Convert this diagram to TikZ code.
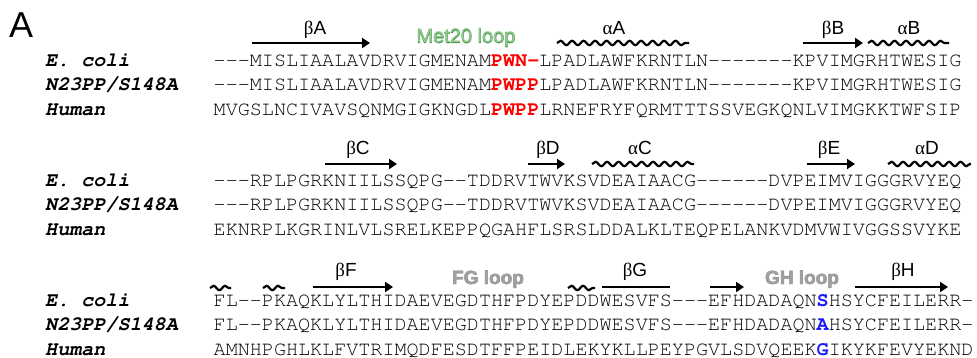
\documentclass[tikz,border=0pt]{standalone}
\usepackage{fontspec}
\setmainfont{Liberation Sans}
\newfontfamily\greekfont{Liberation Serif}
\newfontfamily\haloface{Liberation Sans}[FakeBold=2.2]
\usetikzlibrary{arrows.meta,decorations.pathmorphing}

\definecolor{resred}{HTML}{FF0000}
\definecolor{resblue}{HTML}{1A1AFF}
\definecolor{loopgreen}{HTML}{93CB93}
\definecolor{loopgreenedge}{HTML}{4E9A4E}
\definecolor{loopgrey}{HTML}{A0A0A0}
\definecolor{loopgreyedge}{HTML}{8A8A8A}

% Courier for the alignment itself
\newcommand\courier{\fontencoding{T1}\fontfamily{pcr}\fontsize{20.1}{20}\selectfont}
% n alignment gaps
\newcommand\gaps[1]{\foreach \gi in {1,...,#1}{\textendash}}
% highlighted residue(s)
\newcommand\hlres[2]{\textcolor{#1}{\bfseries #2}}
% secondary-structure label: Greek letter + sans letter
\newcommand\sslab[2]{{\greekfont #1}#2}

\tikzset{
  seqtext/.style={anchor=base west, inner sep=0pt, font=\courier},
  rowname/.style={anchor=base west, inner sep=0pt, font=\courier\fontseries{b}\fontshape{sl}\selectfont},
  strand/.style={line width=2.8pt, -{Triangle[length=8pt,width=10pt]}},
  flatstrand/.style={line width=2.8pt},
  helix/.style={line width=2.2pt, decorate,
    decoration={snake, segment length=11.5pt, amplitude=2.2pt}},
  sslabel/.style={anchor=base, inner sep=0pt, font=\fontsize{19}{19}\selectfont},
  halo/.style={anchor=base, inner sep=0pt, font=\fontsize{20}{20}\haloface},
  looptext/.style={anchor=base, inner sep=0pt, font=\fontsize{20}{20}\selectfont},
}

\begin{document}
\begin{tikzpicture}[x=1pt,y=-1pt]
\useasboundingbox (0,0) rectangle (977,358);

\node[anchor=base west, inner sep=0pt, font=\fontsize{36}{36}\selectfont] (panel) at (9,38) {A};

% ---------------- block 1 ----------------
\node[rowname] (ecA) at (45,66.5) {E. coli};
\node[rowname] (muA) at (45,90.8) {N23PP/S148A};
\node[rowname] (huA) at (45,115.1) {Human};
\node[seqtext] (secA) at (213.5,66.5) {\gaps{3}MISLIAALAVDRVIGMENAM\hlres{resred}{PWN\textendash}LPADLAWFKRNTLN\gaps{7}KPVIMGRHTWESIG};
\node[seqtext] (smuA) at (213.5,90.8) {\gaps{3}MISLIAALAVDRVIGMENAM\hlres{resred}{PWPP}LPADLAWFKRNTLN\gaps{7}KPVIMGRHTWESIG};
\node[seqtext] (shuA) at (213.5,115.1) {MVGSLNCIVAVSQNMGIGKNGDL\hlres{resred}{PWPP}LRNEFRYFQRMTTTSSVEGKQNLVIMGKKTWFSIP};

\draw[strand] (252,43) -- (370,43);
\node[sslabel] (lbA) at (315,35) {\sslab{β}{A}};
\node[halo, text=loopgreenedge] (met20edge) at (466,43) {Met20 loop};
\node[looptext, text=loopgreen] (met20) at (466,43) {Met20 loop};
\draw[helix] (557,43) -- (689,43);
\node[sslabel] (laA) at (614,35) {\sslab{α}{A}};
\draw[strand] (803,43) -- (863,43);
\node[sslabel] (lbB) at (833,35) {\sslab{β}{B}};
\draw[helix] (868,43) -- (949,43);
\node[sslabel] (laB) at (909,35) {\sslab{α}{B}};

% ---------------- block 2 ----------------
\node[rowname] (ecB) at (45,186.5) {E. coli};
\node[rowname] (muB) at (45,210.8) {N23PP/S148A};
\node[rowname] (huB) at (45,235.1) {Human};
\node[seqtext] (secB) at (213.5,186.5) {\gaps{3}RPLPGRKNIILSSQPG\gaps{2}TDDRVTWVKSVDEAIAACG\gaps{6}DVPEIMVIGGGRVYEQ};
\node[seqtext] (smuB) at (213.5,210.8) {\gaps{3}RPLPGRKNIILSSQPG\gaps{2}TDDRVTWVKSVDEAIAACG\gaps{6}DVPEIMVIGGGRVYEQ};
\node[seqtext] (shuB) at (213.5,235.1) {EKNRPLKGRINLVLSRELKEPPQGAHFLSRSLDDALKLTEQPELANKVDMVWIVGGSSVYKE};

\draw[strand] (325,164) -- (397,164);
\node[sslabel] (lbC) at (358,155) {\sslab{β}{C}};
\draw[strand] (528,164) -- (565,164);
\node[sslabel] (lbD) at (548,155) {\sslab{β}{D}};
\draw[helix] (592,164) -- (694,164);
\node[sslabel] (laC) at (640,155) {\sslab{α}{C}};
\draw[strand] (807,164) -- (855,164);
\node[sslabel] (lbE) at (829,155) {\sslab{β}{E}};
\draw[helix] (888,164) -- (971,164);
\node[sslabel] (laD) at (927,155) {\sslab{α}{D}};

% ---------------- block 3 ----------------
\node[rowname] (ecC) at (45,306.5) {E. coli};
\node[rowname] (muC) at (45,330.8) {N23PP/S148A};
\node[rowname] (huC) at (45,355.1) {Human};
\node[seqtext] (secC) at (213.5,306.5) {FL\gaps{2}PKAQKLYLTHIDAEVEGDTHFPDYEPDDWESVFS\gaps{3}EFHDADAQN\hlres{resblue}{S}HSYCFEILERR\gaps{1}};
\node[seqtext] (smuC) at (213.5,330.8) {FL\gaps{2}PKAQKLYLTHIDAEVEGDTHFPDYEPDDWESVFS\gaps{3}EFHDADAQN\hlres{resblue}{A}HSYCFEILERR\gaps{1}};
\node[seqtext] (shuC) at (213.5,355.1) {AMNHPGHLKLFVTRIMQDFESDTFFPEIDLEKYKLLPEYPGVLSDVQEEK\hlres{resblue}{G}IKYKFEVYEKND};

\draw[helix] (210,288) -- (231,288);
\draw[helix] (263,288) -- (285,288);
\draw[strand] (313,287) -- (393,287);
\node[sslabel] (lbF) at (346,276) {\sslab{β}{F}};
\node[halo, text=loopgreyedge, font=\fontsize{19}{19}\haloface\bfseries] (fgedge) at (488,284) {FG loop};
\node[looptext, text=loopgrey, font=\fontsize{19}{19}\selectfont\bfseries] (fgloop) at (488,284) {FG loop};
\draw[helix] (568,288) -- (595,288);
\draw[flatstrand] (602,287) -- (670,287);
\node[sslabel] (lbG) at (635,276) {\sslab{β}{G}};
\draw[strand] (710,287) -- (744,287);
\node[halo, text=loopgreyedge, font=\fontsize{19}{19}\haloface\bfseries] (ghedge) at (802,284) {GH loop};
\node[looptext, text=loopgrey, font=\fontsize{19}{19}\selectfont\bfseries] (ghloop) at (802,284) {GH loop};
\draw[strand] (855,287) -- (948,287);
\node[sslabel] (lbH) at (903,276) {\sslab{β}{H}};
\end{tikzpicture}
\end{document}
